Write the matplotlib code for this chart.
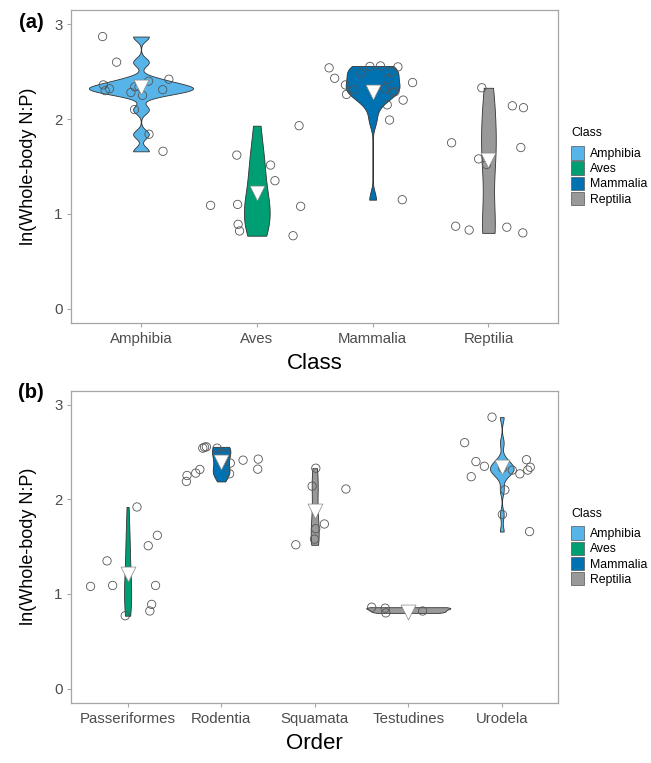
"""
Violin plots of ln(whole-body N:P) by Class (a) and by Order (b),
with jittered raw points and a white triangle at the group mean.
"""

import matplotlib
matplotlib.use("Agg")
import matplotlib.pyplot as plt
from matplotlib.patches import Patch
import numpy as np

plt.rcParams["font.family"] = ["Liberation Sans", "DejaVu Sans"]

# ---- data ----
classes = ["Amphibia", "Aves", "Mammalia", "Reptilia"]
class_colors = ["#56B4E9", "#009E73", "#0072B2", "#999999"]

amphibia = [2.87, 2.60, 2.42, 2.40, 2.36, 2.34, 2.34, 2.32, 2.31, 2.30,
            2.28, 2.25, 2.10, 1.84, 1.66]
aves = [1.93, 1.62, 1.515, 1.35, 1.10, 1.09, 1.08, 0.89, 0.82, 0.77]
mammalia = [2.56, 2.555, 2.55, 2.54, 2.50, 2.485, 2.43, 2.42, 2.385, 2.36,
            2.32, 2.31, 2.29, 2.28, 2.26, 2.20, 2.15, 1.99, 1.15]
reptilia = [2.33, 2.14, 2.12, 1.75, 1.70, 1.58, 1.52, 0.87, 0.86, 0.83, 0.80]
class_means = [2.34, 1.224, 2.284, 1.573]

orders = ["Passeriformes", "Rodentia", "Squamata", "Testudines", "Urodela"]
order_class = ["Aves", "Mammalia", "Reptilia", "Reptilia", "Amphibia"]

passeriformes = [1.92, 1.62, 1.51, 1.35, 1.09, 1.09, 1.08, 0.89, 0.82, 0.77]
rodentia = [2.556, 2.552, 2.542, 2.542, 2.489, 2.482, 2.426, 2.415, 2.384,
            2.32, 2.317, 2.278, 2.271, 2.253, 2.19]
squamata = [2.33, 2.14, 2.11, 1.74, 1.69, 1.58, 1.52]
testudines = [0.86, 0.85, 0.82, 0.80]
urodela = [2.87, 2.60, 2.42, 2.40, 2.35, 2.34, 2.33, 2.31, 2.31, 2.27,
           2.24, 2.10, 1.84, 1.66]
order_means = [1.214, 2.392, 1.879, 0.81, 2.347]

TEXT_GREY = "#4D4D4D"
FRAME_GREY = "#A6A6A6"


def bw_nrd0(x):
    x = np.asarray(x, float)
    hi = x.std(ddof=1)
    q1, q3 = np.percentile(x, [25, 75])
    lo = min(hi, (q3 - q1) / 1.34)
    if lo <= 0:
        lo = hi if hi > 0 else abs(x[0]) or 1.0
    return 0.9 * lo * len(x) ** -0.2


def kde_trim(x, n=512):
    x = np.asarray(x, float)
    h = bw_nrd0(x)
    grid = np.linspace(x.min(), x.max(), n)
    z = (grid[:, None] - x[None, :]) / h
    dens = np.exp(-0.5 * z ** 2).sum(axis=1) / (len(x) * h * np.sqrt(2 * np.pi))
    return grid, dens


def draw_panel(ax, labels, groups, colors, means, xlabel, seed):
    rng = np.random.default_rng(seed)
    curves = [kde_trim(g) for g in groups]
    dmax = max(d.max() for _, d in curves)
    for i, ((grid, dens), col) in enumerate(zip(curves, colors)):
        half = 0.45 * dens / dmax
        ax.fill_betweenx(grid, i + 1 - half, i + 1 + half, facecolor=col,
                         edgecolor="#333333", linewidth=0.6, zorder=2)
    for i, g in enumerate(groups):
        xs = i + 1 + rng.uniform(-0.4, 0.4, len(g))
        ax.scatter(xs, g, s=36, facecolors="none", edgecolors="#555555",
                   linewidths=0.6, zorder=3)
    ax.scatter(np.arange(1, len(labels) + 1), means, marker="v", s=115,
               facecolor="white", edgecolor="#888888", linewidths=0.5,
               zorder=4)

    ax.set_xlim(0.4, len(labels) + 0.6)
    ax.set_ylim(-0.15, 3.15)
    ax.set_xticks(np.arange(1, len(labels) + 1))
    ax.set_xticklabels(labels)
    ax.set_yticks([0, 1, 2, 3])
    ax.tick_params(colors=FRAME_GREY, labelcolor=TEXT_GREY, labelsize=10.8,
                   length=3, width=0.8)
    for sp in ax.spines.values():
        sp.set_color(FRAME_GREY)
        sp.set_linewidth(0.9)
    ax.set_xlabel(xlabel, fontsize=16, labelpad=5)
    ax.set_ylabel("ln(Whole-body N:P)", fontsize=13, labelpad=12)

    handles = [Patch(facecolor=c, edgecolor="#555555", linewidth=0.5,
                     label=lab) for lab, c in zip(classes, class_colors)]
    leg = ax.legend(handles=handles, title="Class", loc="center left",
                    bbox_to_anchor=(1.01, 0.5), frameon=False, fontsize=8.8,
                    title_fontsize=8.8, handlelength=1.05, handleheight=1.3,
                    handletextpad=0.5, labelspacing=0.12, borderaxespad=0.3)
    leg._legend_box.align = "left"
    leg._legend_box.sep = 5


fig = plt.figure(figsize=(6.51, 7.63), dpi=100)
ax_a = fig.add_axes([0.1098, 0.5767, 0.7472, 0.4102])
ax_b = fig.add_axes([0.1098, 0.0790, 0.7472, 0.4090])

draw_panel(ax_a, classes, [amphibia, aves, mammalia, reptilia], class_colors,
           class_means, "Class", seed=3)

color_of = dict(zip(classes, class_colors))
draw_panel(ax_b, orders,
           [passeriformes, rodentia, squamata, testudines, urodela],
           [color_of[c] for c in order_class], order_means, "Order", seed=7)

fig.text(31 / 651, 1 - 23 / 763, "(a)", fontsize=14.5, fontweight="bold",
         ha="center", va="center")
fig.text(31 / 651, 1 - 392 / 763, "(b)", fontsize=14.5, fontweight="bold",
         ha="center", va="center")

fig.savefig("out.png", dpi=100)
